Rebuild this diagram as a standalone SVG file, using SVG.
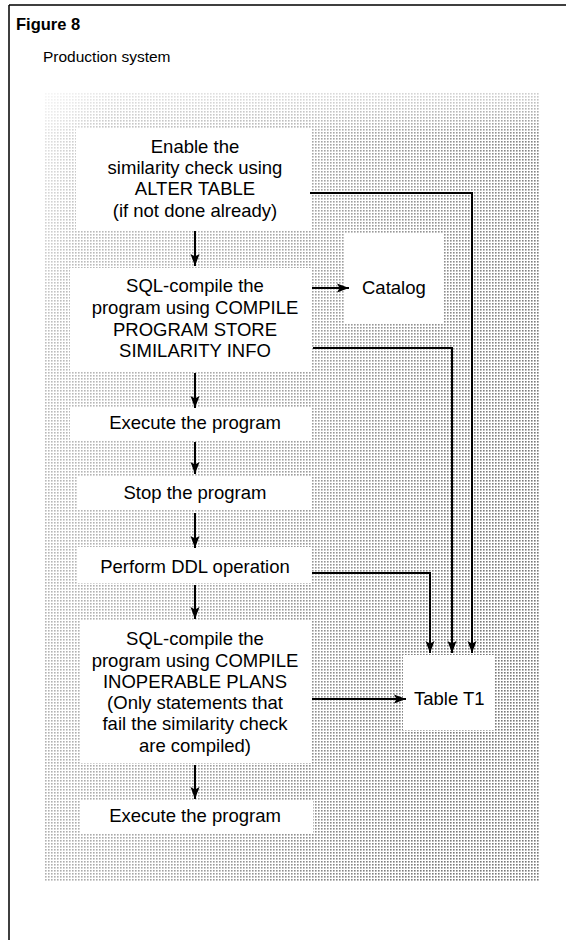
<svg xmlns="http://www.w3.org/2000/svg" width="566" height="940" viewBox="0 0 566 940">
  <defs>
    <pattern id="dots" x="0" y="0" width="3" height="3" patternUnits="userSpaceOnUse">
      <rect x="0" y="0" width="1.6" height="1.6" fill="#6a6a6a"/>
    </pattern>
    <linearGradient id="fade" x1="0" y1="0" x2="1" y2="0.4">
      <stop offset="0" stop-color="#fff" stop-opacity="0.85"/>
      <stop offset="0.12" stop-color="#fff" stop-opacity="0.55"/>
      <stop offset="0.5" stop-color="#fff" stop-opacity="0.4"/>
      <stop offset="1" stop-color="#fff" stop-opacity="0.1"/>
    </linearGradient>
    <linearGradient id="topfade" x1="0" y1="0" x2="0" y2="1">
      <stop offset="0" stop-color="#fff" stop-opacity="0.6"/>
      <stop offset="1" stop-color="#fff" stop-opacity="0"/>
    </linearGradient>
    <marker id="ah" viewBox="0 0 12 10" refX="12" refY="5" markerWidth="6" markerHeight="5" orient="auto" markerUnits="strokeWidth">
      <path d="M0,0.5 L12,5 L0,9.5 L2.5,5 Z" fill="#000"/>
    </marker>
    <style>
      .t { font-family: "Liberation Sans", Arial, sans-serif; font-size: 18.5px; fill: #000; text-anchor: middle; }
      .tl { font-family: "Liberation Sans", Arial, sans-serif; font-size: 18.5px; fill: #000; }
      .box { fill: #fff; }
      .ar { fill: none; stroke: #000; stroke-width: 2; marker-end: url(#ah); }
    </style>
  </defs>

  <rect x="0" y="0" width="566" height="940" fill="#fff"/>
  <path d="M9,5 H566 M9,5 V940" fill="none" stroke="#000" stroke-width="1.5"/>
  <text x="16" y="30" font-family="Liberation Sans, Arial, sans-serif" font-size="16.5" font-weight="bold">Figure 8</text>
  <text x="43" y="62" font-family="Liberation Sans, Arial, sans-serif" font-size="15.5">Production system</text>

  <g id="background">
    <rect x="45" y="93" width="495" height="789" fill="url(#dots)"/>
    <rect x="45" y="93" width="495" height="789" fill="url(#fade)"/>
    <rect x="45" y="93" width="495" height="45" fill="url(#topfade)"/>
  </g>

  <g id="enable">
    <rect class="box" x="76" y="128" width="236" height="102"/>
    <text class="t" x="195" y="153">Enable the</text>
    <text class="t" x="195" y="174">similarity check using</text>
    <text class="t" x="195" y="195">ALTER TABLE</text>
    <text class="t" x="195" y="217">(if not done already)</text>
  </g>
  <g id="compile1">
    <rect class="box" x="70" y="268" width="242" height="104"/>
    <text class="t" x="195" y="292">SQL-compile the</text>
    <text class="t" x="195" y="314">program using COMPILE</text>
    <text class="t" x="195" y="336">PROGRAM STORE</text>
    <text class="t" x="195" y="357">SIMILARITY INFO</text>
  </g>
  <g id="catalog">
    <rect class="box" x="345" y="233" width="98" height="90"/>
    <text class="tl" x="362" y="294">Catalog</text>
  </g>
  <g id="execute1">
    <rect class="box" x="70" y="407" width="242" height="33"/>
    <text class="t" x="195" y="429">Execute the program</text>
  </g>
  <g id="stop">
    <rect class="box" x="78" y="477" width="234" height="33"/>
    <text class="t" x="195" y="499">Stop the program</text>
  </g>
  <g id="ddl">
    <rect class="box" x="78" y="547" width="234" height="36"/>
    <text class="t" x="195" y="573">Perform DDL operation</text>
  </g>
  <g id="compile2">
    <rect class="box" x="80" y="620" width="232" height="143"/>
    <text class="t" x="195" y="645">SQL-compile the</text>
    <text class="t" x="195" y="667">program using COMPILE</text>
    <text class="t" x="195" y="688">INOPERABLE PLANS</text>
    <text class="t" x="195" y="709">(Only statements that</text>
    <text class="t" x="195" y="730">fail the similarity check</text>
    <text class="t" x="195" y="752">are compiled)</text>
  </g>
  <g id="execute2">
    <rect class="box" x="80" y="800" width="233" height="33"/>
    <text class="t" x="195" y="822">Execute the program</text>
  </g>
  <g id="tableT1">
    <rect class="box" x="403" y="655" width="92" height="75"/>
    <text class="tl" x="414" y="705">Table T1</text>
  </g>

  <g id="connectors">
    <line class="ar" x1="195" y1="231" x2="195" y2="266"/>
    <line class="ar" x1="195" y1="373" x2="195" y2="408"/>
    <line class="ar" x1="195" y1="442" x2="195" y2="474"/>
    <line class="ar" x1="195" y1="513" x2="195" y2="548"/>
    <line class="ar" x1="195" y1="585" x2="195" y2="619"/>
    <line class="ar" x1="195" y1="765" x2="195" y2="799"/>
    <line class="ar" x1="312" y1="288" x2="349" y2="288"/>
    <line class="ar" x1="312" y1="699" x2="406" y2="699"/>
    <polyline class="ar" points="310,193 472,193 472,653"/>
    <polyline class="ar" points="313,348 452,348 452,653"/>
    <polyline class="ar" points="312,573 430,573 430,653"/>
  </g>
</svg>
